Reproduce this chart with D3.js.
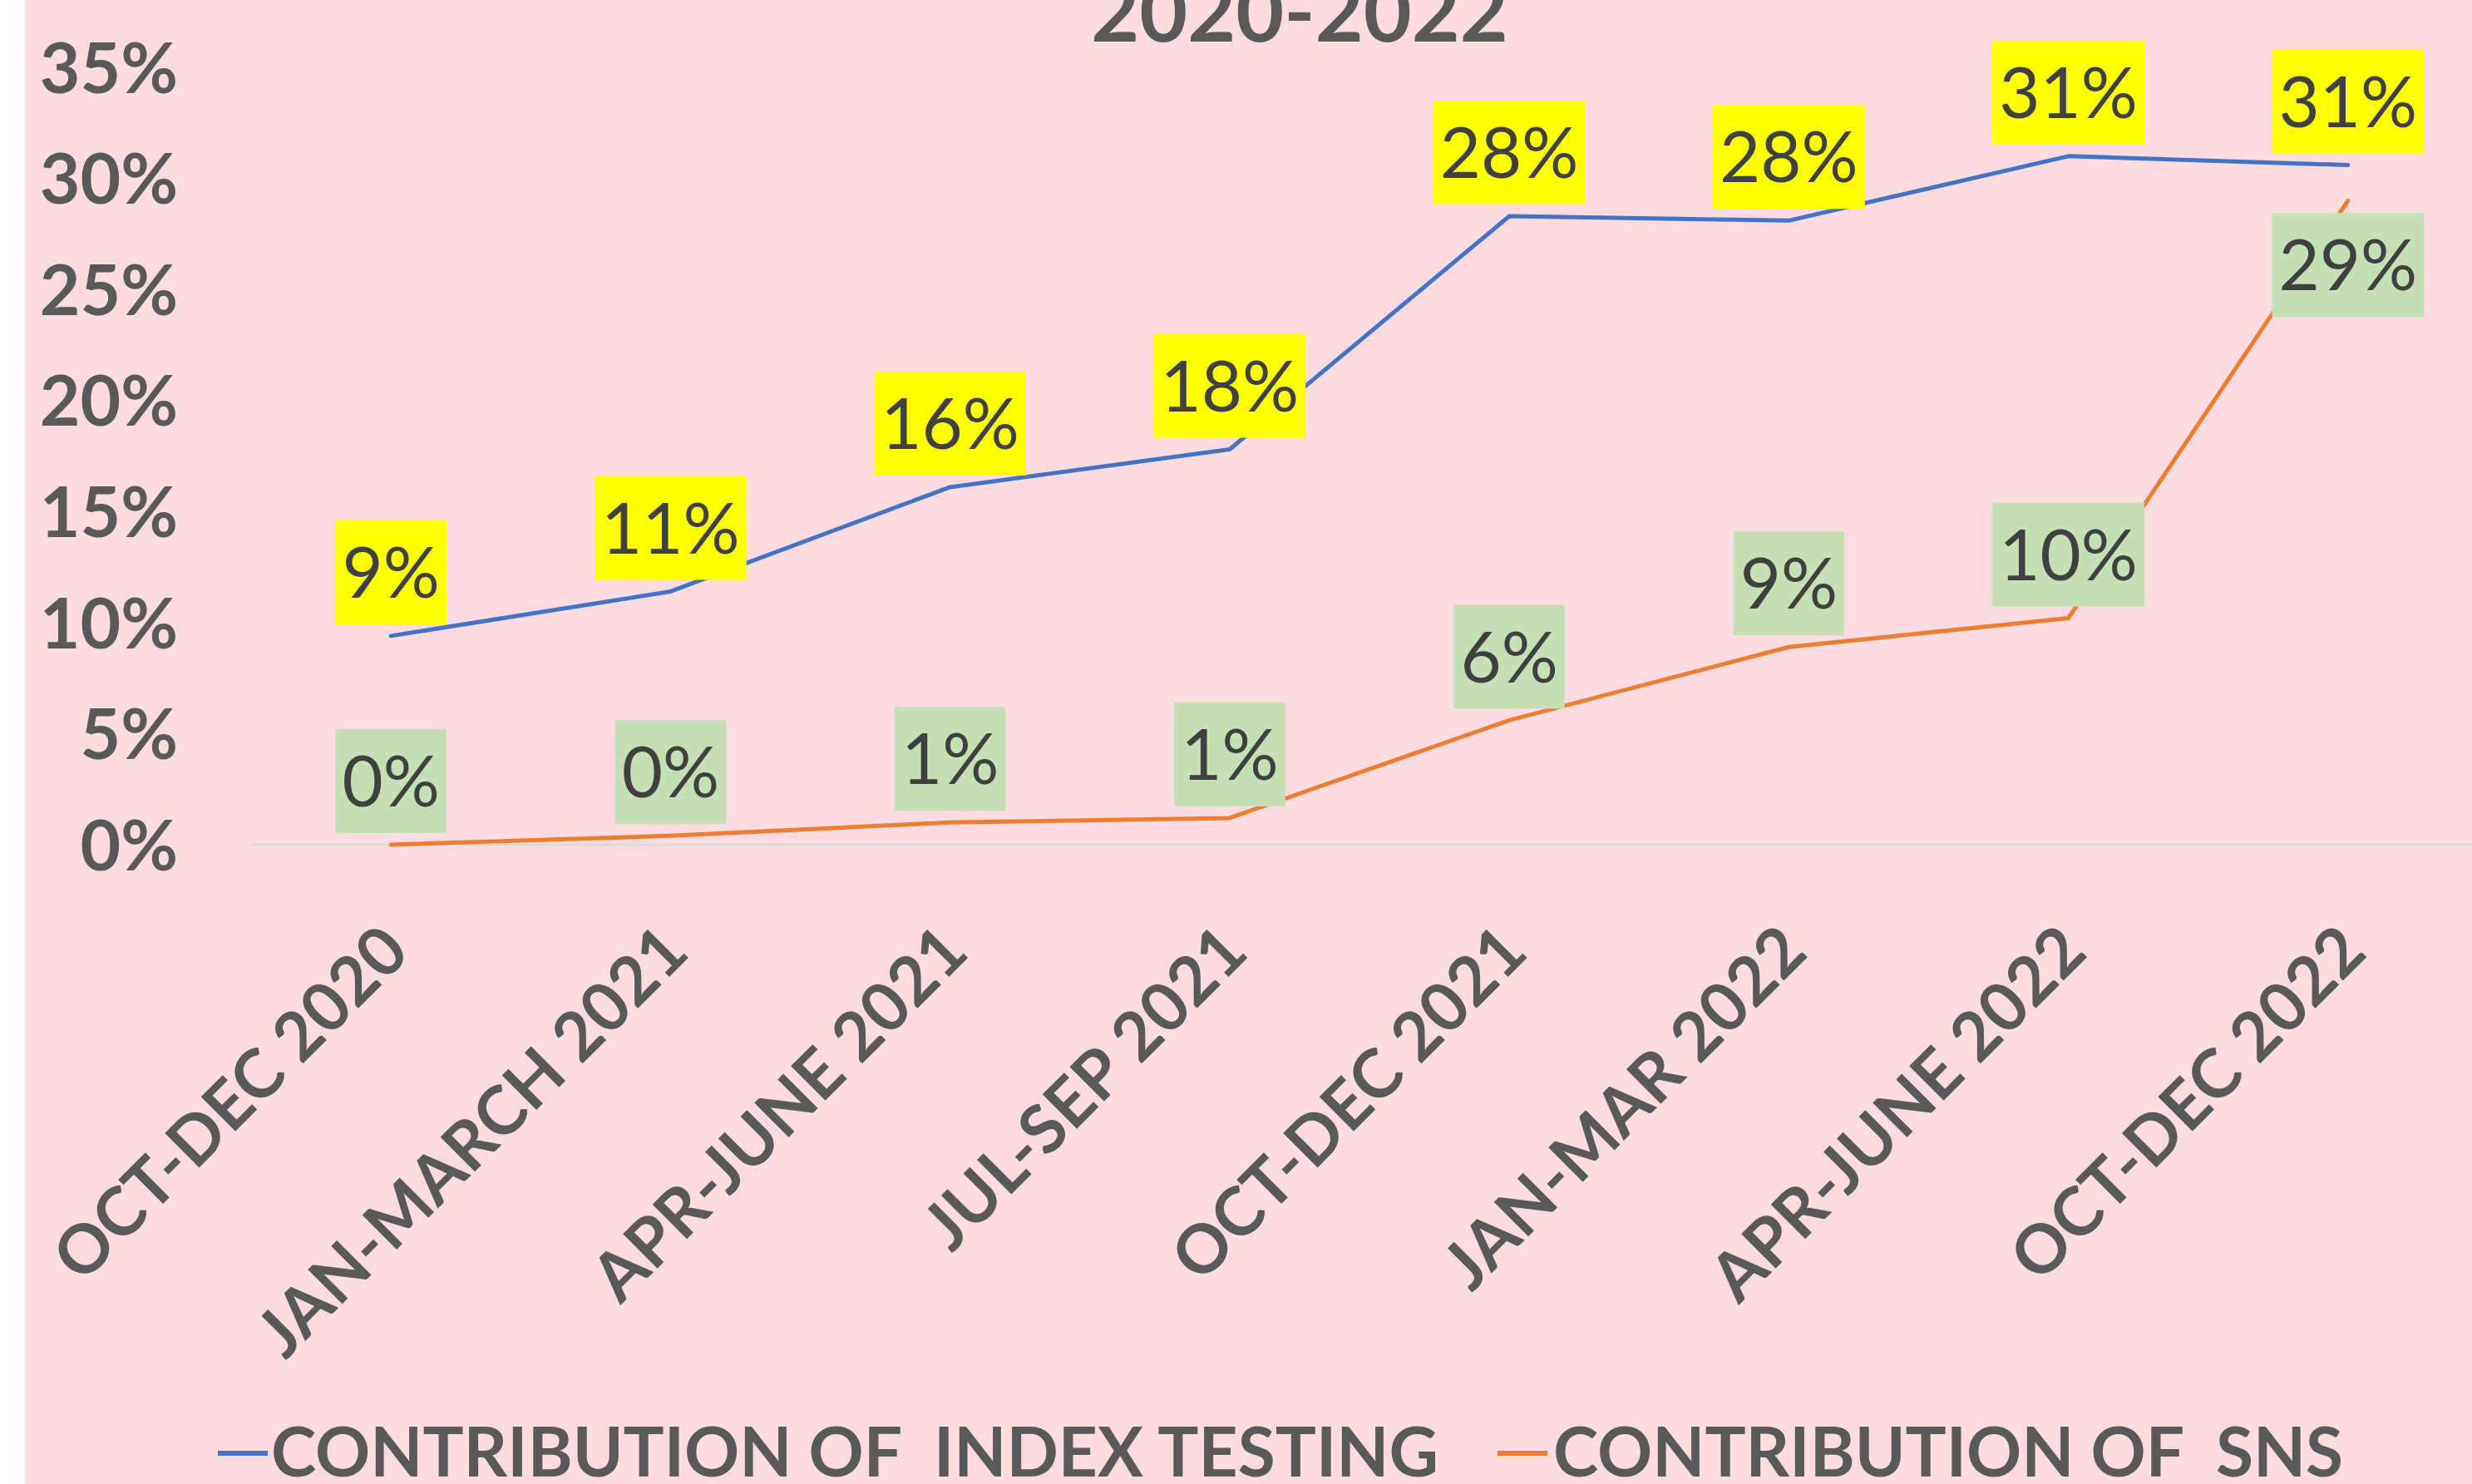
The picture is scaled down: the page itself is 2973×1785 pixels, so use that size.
<!DOCTYPE html>
<html>
<head>
<meta charset="utf-8">
<script src="https://cdn.jsdelivr.net/npm/d3@7"></script>
<style>
  html, body { margin: 0; padding: 0; background: #ffffff; }
  svg { display: block; }
  text { font-family: Lato, "Noto Sans", sans-serif; }
</style>
</head>
<body>
<svg id="chart" width="2973" height="1785"></svg>
<script>
// ---- data ----
const categories = ["OCT-DEC 2020", "JAN-MARCH 2021", "APR-JUNE 2021", "JUL-SEP 2021",
                    "OCT-DEC 2021", "JAN-MAR 2022", "APR-JUNE 2022", "OCT-DEC 2022"];
const indexTesting = [0.094, 0.114, 0.161, 0.178, 0.283, 0.281, 0.310, 0.306];
const sns          = [0.000, 0.004, 0.010, 0.012, 0.056, 0.089, 0.102, 0.290];
const yTicks = [0, 0.05, 0.10, 0.15, 0.20, 0.25, 0.30, 0.35];
const seriesNames = ["CONTRIBUTION OF  INDEX TESTING", "CONTRIBUTION OF  SNS"];
const titleText = "2020-2022";

// ---- layout / style ----
const W = 2973, H = 1785;
const svg = d3.select("#chart");
const textGray = "#595959";
const labelGray = "#404040";
const colors = ["#4472C4", "#ED7D31"];
const boxColors = ["#FFFF00", "#C5E0B4"];

svg.append("rect").attr("x", 30).attr("y", 0).attr("width", W - 30).attr("height", H).attr("fill", "#FCDCE0");

const x = d3.scalePoint().domain(categories).range([302, 2992]).padding(0.5);
const y = d3.scaleLinear().domain([0, 0.35]).range([1016, 81]);

// title
svg.append("text").attr("x", 1563).attr("y", 50).attr("text-anchor", "middle")
  .attr("font-size", 100).attr("font-weight", 700).attr("fill", textGray).text(titleText);

// baseline (0% gridline)
svg.append("line").attr("x1", 302).attr("x2", W).attr("y1", y(0)).attr("y2", y(0))
  .attr("stroke", "#D9D9D9").attr("stroke-width", 2.5);

// y axis
const yAxis = svg.append("g").attr("transform", "translate(214,0)")
  .call(d3.axisLeft(y).tickValues(yTicks).tickFormat(d3.format(".0%")).tickSize(0).tickPadding(0));
yAxis.select(".domain").remove();
yAxis.selectAll("text").attr("font-size", 84).attr("font-weight", 700).attr("fill", textGray)
  .attr("font-family", "Lato").attr("dy", "0.36em");

// x axis
const xAxis = svg.append("g").attr("transform", `translate(0,${y(0)})`)
  .call(d3.axisBottom(x).tickSize(0).tickPadding(0));
xAxis.select(".domain").remove();
xAxis.selectAll("text")
  .attr("font-size", 81).attr("font-weight", 700).attr("fill", textGray).attr("font-family", "Lato")
  .attr("text-anchor", "end").attr("x", 0).attr("y", 0).attr("dy", "0.36em")
  .attr("transform", "translate(4,112) rotate(-45)");

// lines
const series = [indexTesting, sns];
const line = d3.line().x((d, i) => x(categories[i])).y(d => y(d));
series.forEach((s, k) => {
  svg.append("path").datum(s).attr("d", line).attr("fill", "none")
    .attr("stroke", colors[k]).attr("stroke-width", 5)
    .attr("stroke-linejoin", "round").attr("stroke-linecap", "round");
});

// data labels
const fmt = d3.format(".0%");
const boxH = 125, pad = 8, gap = 14;
series.forEach((s, k) => {
  s.forEach((v, i) => {
    const cx = x(categories[i]);
    const py = y(v);
    const below = (k === 1 && i === s.length - 1);
    const g = svg.append("g");
    const rect = g.append("rect").attr("fill", boxColors[k]);
    const t = g.append("text").attr("x", cx).attr("text-anchor", "middle")
      .attr("font-size", 85).attr("font-weight", 400).attr("fill", labelGray).text(fmt(v));
    const tw = t.node().getComputedTextLength();
    const bw = tw + 2 * pad;
    const top = below ? py + gap + 1 : py - gap - boxH;
    rect.attr("x", cx - bw / 2).attr("y", top).attr("width", bw).attr("height", boxH);
    t.attr("y", top + boxH / 2).attr("dy", "0.36em");
  });
});

// legend
const legendItems = [{ x: 262, tx: 326 }, { x: 1801, tx: 1868 }];
seriesNames.forEach((name, k) => {
  svg.append("line").attr("x1", legendItems[k].x).attr("x2", legendItems[k].x + 60)
    .attr("y1", 1748).attr("y2", 1748).attr("stroke", colors[k]).attr("stroke-width", 6);
  svg.append("text").attr("x", legendItems[k].tx).attr("y", 1776)
    .attr("font-size", 82).attr("font-weight", 700).attr("fill", textGray)
    .style("white-space", "pre").text(name);
});
</script>
</body>
</html>
